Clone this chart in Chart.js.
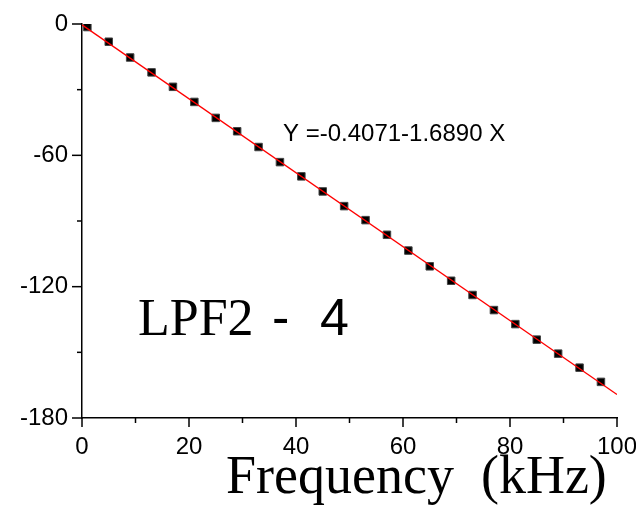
<!DOCTYPE html>
<html>
<head>
<meta charset="utf-8">
<script src="https://cdn.jsdelivr.net/npm/chart.js@4"></script>
<style>
  body { margin: 0; background: #fff; }
</style>
</head>
<body>
<canvas id="myChart" width="636" height="509"></canvas>
<script>
// measured points (frequency in kHz, gain)
const freq = [1, 5, 9, 13, 17, 21, 25, 29, 33, 37, 41, 45, 49, 53, 57, 61, 65, 69, 73, 77, 81, 85, 89, 93, 97];
const gain = [-1.4, -8.1, -15.3, -22.1, -28.7, -35.6, -42.9, -49.0, -56.2, -63.1, -69.6, -76.5, -83.2, -89.6, -96.3,
  -103.5, -110.7, -117.3, -123.8, -130.7, -137.1, -144.2, -150.6, -157.0, -163.5];

// fitted line ends
const fitX = [0, 100];
const fitY = [-0.4071, -169.3];

const xTicks = [0, 20, 40, 60, 80, 100];
const yTicks = [0, -60, -120, -180];

const eqText = "Y =-0.4071-1.6890 X";
const xTitle = "Frequency  (kHz)";

const sans = '"Liberation Sans", Arial, sans-serif';
const serif = '"Liberation Serif", "Times New Roman", serif';

// tick marks + free text
const extras = {
  id: "extras",
  afterDraw(chart) {
    const c = chart.ctx;
    c.save();
    c.strokeStyle = "#000";
    c.lineWidth = 1.5;
    const xs = chart.scales.x, ys = chart.scales.y;
    for (let v = 0; v <= 100; v += 10) {
      const px = xs.getPixelForValue(v);
      const len = xTicks.includes(v) ? 9 : 5;
      c.beginPath();
      c.moveTo(px, xs.top);
      c.lineTo(px, xs.top + len);
      c.stroke();
    }
    for (let v = 0; v >= -180; v -= 30) {
      const py = ys.getPixelForValue(v);
      const len = yTicks.includes(v) ? 10 : 5;
      c.beginPath();
      c.moveTo(ys.right, py);
      c.lineTo(ys.right - len, py);
      c.stroke();
    }

    c.fillStyle = "#000";
    c.textBaseline = "alphabetic";
    c.textAlign = "left";
    c.font = "24px " + sans;
    c.fillText(eqText, 283, 141);

    c.font = "52px " + serif;
    c.fillText("LPF2", 138, 335);
    c.font = "52px " + sans;
    c.fillText("-", 272, 335);
    c.fillText("4", 320, 335);

    c.font = "54px " + serif;
    c.fillText(xTitle, 226, 493);
    c.restore();
  }
};

const ctx = document.getElementById("myChart").getContext("2d");
new Chart(ctx, {
  type: "scatter",
  data: {
    datasets: [
      {
        type: "line",
        label: "fit",
        data: fitX.map((x, i) => ({ x: x, y: fitY[i] })),
        borderColor: "#ff0000",
        borderWidth: 1.3,
        pointRadius: 0,
        fill: false,
      },
      {
        label: "LPF2-4",
        data: freq.map((x, i) => ({ x: x, y: gain[i] })),
        pointStyle: "rect",
        pointRadius: 5.3,
        backgroundColor: "#000",
        borderColor: "#444",
        borderWidth: 1,
      },
    ],
  },
  options: {
    responsive: false,
    animation: false,
    layout: { padding: { top: 24, right: 19, left: 0, bottom: 0 } },
    plugins: {
      legend: { display: false },
      tooltip: { enabled: false },
    },
    scales: {
      x: {
        type: "linear",
        min: 0,
        max: 100,
        afterFit: (s) => { s.height = 91; s.paddingLeft = 0; s.paddingRight = 0; },
        afterBuildTicks: (s) => { s.ticks = xTicks.map((v) => ({ value: v })); },
        ticks: { color: "#000", font: { family: sans, size: 24 }, padding: 7, maxRotation: 0 },
        grid: { display: false },
        border: { color: "#000", width: 1.5 },
      },
      y: {
        min: -180,
        max: 0,
        afterFit: (s) => { s.width = 82; s.paddingTop = 0; s.paddingBottom = 0; },
        afterBuildTicks: (s) => { s.ticks = yTicks.map((v) => ({ value: v })); },
        ticks: { color: "#000", font: { family: sans, size: 24 }, padding: 6 },
        grid: { display: false },
        border: { color: "#000", width: 1.5 },
      },
    },
  },
  plugins: [extras],
});
</script>
</body>
</html>
